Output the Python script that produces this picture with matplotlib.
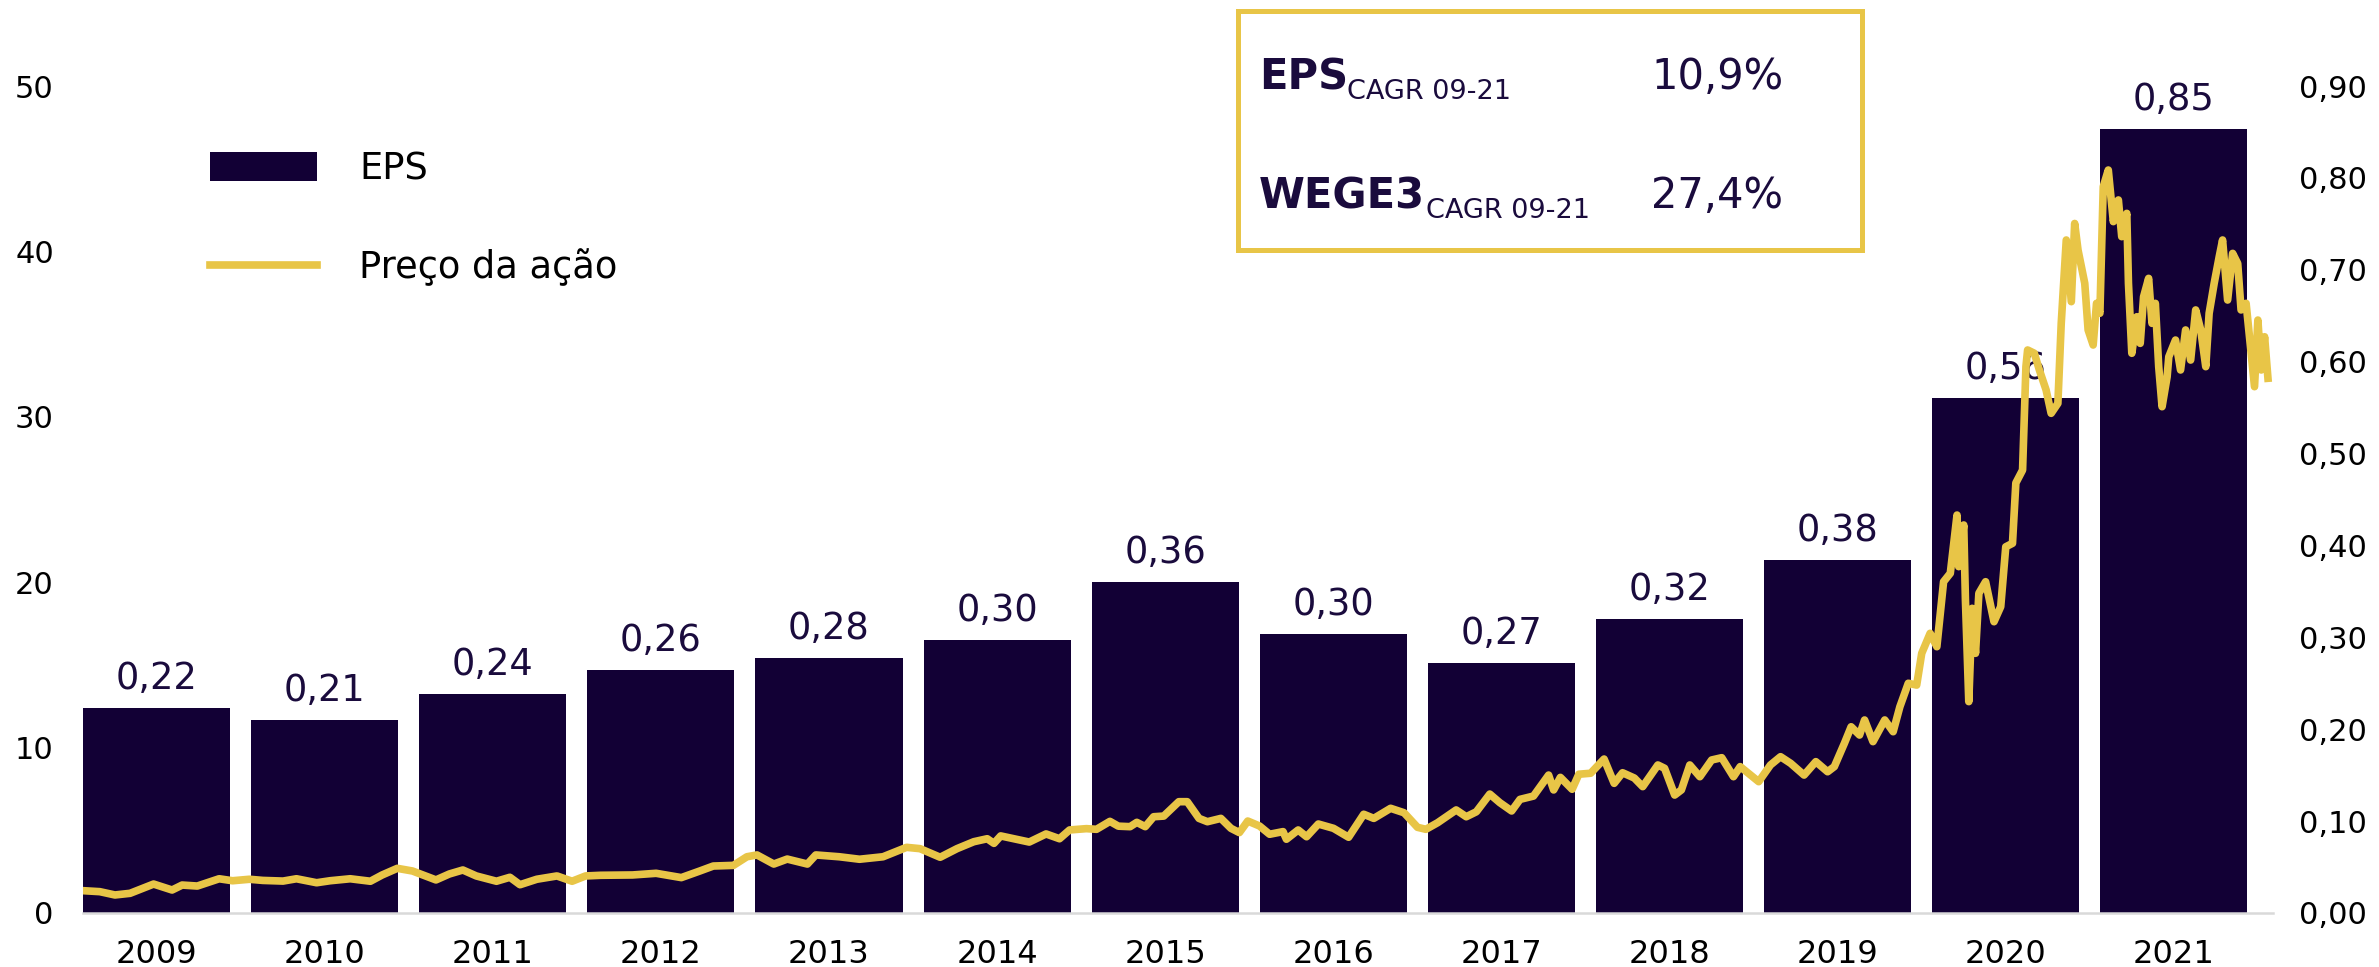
import matplotlib
matplotlib.use("Agg")
import matplotlib.pyplot as plt
from matplotlib.patches import Rectangle

NAVY = "#120035"; GOLD = "#E8C547"; INK = "#1A0B3D"; AXIS = "#D9D9D9"

# EPS anual (eixo direito)
anos_eps = ["2009", "2010", "2011", "2012", "2013", "2014", "2015",
            "2016", "2017", "2018", "2019", "2020", "2021"]
eps = [0.223, 0.210, 0.238, 0.264, 0.278, 0.297, 0.360,
       0.304, 0.272, 0.320, 0.384, 0.560, 0.853]

# preço da ação WEGE3 (eixo esquerdo), tempo em anos decimais
anos_preco = [
    2009.00, 2009.10, 2009.19, 2009.28, 2009.34, 2009.42, 2009.53, 2009.59, 2009.68, 2009.81,
    2009.89, 2009.99, 2010.07, 2010.19, 2010.27, 2010.39, 2010.47, 2010.59, 2010.71, 2010.78,
    2010.87, 2010.96, 2011.10, 2011.18, 2011.26, 2011.34, 2011.46, 2011.54, 2011.60, 2011.70,
    2011.82, 2011.91, 2011.99, 2012.08, 2012.27, 2012.41, 2012.56, 2012.67, 2012.75, 2012.87,
    2012.95, 2013.01, 2013.11, 2013.19, 2013.31, 2013.36, 2013.50, 2013.62, 2013.76, 2013.90,
    2013.98, 2014.10, 2014.20, 2014.30, 2014.38, 2014.42, 2014.46, 2014.53, 2014.63, 2014.73,
    2014.81, 2014.87, 2014.97, 2015.03, 2015.11, 2015.16, 2015.23, 2015.27, 2015.32, 2015.37,
    2015.43, 2015.52, 2015.57, 2015.64, 2015.69, 2015.77, 2015.83, 2015.88, 2015.93, 2016.00,
    2016.06, 2016.14, 2016.16, 2016.23, 2016.28, 2016.35, 2016.44, 2016.53, 2016.62, 2016.68,
    2016.78, 2016.86, 2016.94, 2016.99, 2017.06, 2017.17, 2017.23, 2017.29, 2017.37, 2017.43,
    2017.50, 2017.55, 2017.63, 2017.72, 2017.75, 2017.79, 2017.86, 2017.90, 2017.97, 2018.05,
    2018.11, 2018.16, 2018.23, 2018.28, 2018.37, 2018.41, 2018.47, 2018.51, 2018.56, 2018.62,
    2018.69, 2018.75, 2018.82, 2018.86, 2018.97, 2019.04, 2019.10, 2019.16, 2019.24, 2019.31,
    2019.38, 2019.42, 2019.48, 2019.52, 2019.57, 2019.60, 2019.65, 2019.72, 2019.77, 2019.81,
    2019.86, 2019.91, 2019.94, 2019.99, 2020.03, 2020.07, 2020.11, 2020.15, 2020.16, 2020.19,
    2020.20, 2020.22, 2020.24, 2020.26, 2020.28, 2020.32, 2020.37, 2020.41, 2020.44, 2020.48,
    2020.50, 2020.54, 2020.56, 2020.57, 2020.61, 2020.64, 2020.68, 2020.71, 2020.75, 2020.77,
    2020.80, 2020.83, 2020.85, 2020.87, 2020.91, 2020.93, 2020.96, 2020.98, 2021.00, 2021.02,
    2021.05, 2021.08, 2021.11, 2021.13, 2021.16, 2021.17, 2021.19, 2021.22, 2021.24, 2021.26,
    2021.29, 2021.31, 2021.33, 2021.35, 2021.37, 2021.40, 2021.41, 2021.45, 2021.48, 2021.51,
    2021.54, 2021.57, 2021.60, 2021.63, 2021.65, 2021.68, 2021.71, 2021.73, 2021.76, 2021.79,
    2021.82, 2021.84, 2021.87, 2021.89, 2021.92, 2021.94, 2021.96, 2021.98, 2022.00]
preco = [
    1.35, 1.29, 1.09, 1.19, 1.43, 1.75, 1.39, 1.69, 1.63, 2.07,
    1.95, 2.04, 1.97, 1.93, 2.07, 1.83, 1.95, 2.07, 1.92, 2.30,
    2.70, 2.54, 2.00, 2.36, 2.60, 2.24, 1.92, 2.16, 1.71, 2.04,
    2.24, 1.92, 2.24, 2.28, 2.30, 2.40, 2.14, 2.54, 2.84, 2.88,
    3.40, 3.51, 2.96, 3.26, 2.96, 3.51, 3.40, 3.25, 3.40, 3.97,
    3.89, 3.37, 3.89, 4.31, 4.49, 4.21, 4.66, 4.51, 4.29, 4.78,
    4.49, 5.02, 5.10, 5.06, 5.54, 5.25, 5.22, 5.48, 5.22, 5.82,
    5.86, 6.73, 6.73, 5.72, 5.52, 5.72, 5.12, 4.86, 5.56, 5.26,
    4.76, 4.92, 4.46, 5.02, 4.61, 5.38, 5.12, 4.58, 5.97, 5.72,
    6.33, 6.06, 5.18, 5.06, 5.46, 6.23, 5.82, 6.12, 7.19, 6.67,
    6.17, 6.87, 7.07, 8.34, 7.44, 8.20, 7.48, 8.39, 8.45, 9.31,
    7.84, 8.48, 8.16, 7.64, 8.95, 8.75, 7.13, 7.44, 8.95, 8.24,
    9.25, 9.39, 8.24, 8.85, 7.94, 8.95, 9.45, 9.05, 8.34, 9.15,
    8.54, 8.85, 10.26, 11.26, 10.76, 11.67, 10.36, 11.67, 10.96, 12.47,
    13.89, 13.78, 15.70, 16.91, 16.10, 20.03, 20.54, 24.06, 20.94, 23.46,
    18.92, 12.78, 18.42, 15.70, 19.33, 20.03, 17.61, 18.52, 22.14, 22.35,
    26.00, 26.78, 33.03, 34.04, 33.84, 32.83, 31.62, 30.21, 30.81, 35.65,
    40.69, 36.96, 41.69, 40.08, 38.07, 35.25, 34.34, 36.86, 36.26, 43.91,
    44.92, 41.80, 43.11, 40.89, 42.30, 38.07, 33.84, 36.05, 34.44, 37.26,
    38.37, 35.65, 36.86, 33.03, 30.61, 32.42, 33.63, 34.64, 32.83, 35.25,
    33.43, 36.46, 35.25, 33.03, 36.26, 38.07, 39.68, 40.69, 37.06, 39.88,
    39.27, 36.46, 36.86, 34.84, 31.82, 35.85, 32.83, 34.84, 32.33]

eps_ticks = [0.0, 0.1, 0.2, 0.3, 0.4, 0.5, 0.6, 0.7, 0.8, 0.9]
preco_ticks = [0, 10, 20, 30, 40, 50]

def br(v): return f"{v:.2f}".replace(".", ",")

plt.rcParams.update({"font.family": "DejaVu Sans"})
W, H = 2379, 967
fig = plt.figure(figsize=(W / 100, H / 100), dpi=100)
rect = [83 / W, 54 / H, (2273 - 83) / W, 827 / H]

# ---- barras EPS ----
ax = fig.add_axes(rect)
xs = list(range(len(anos_eps)))
bars = ax.bar(xs, eps, width=0.875, color=NAVY, zorder=2, label="EPS")
ax.set_xlim(-0.4375, 12.59); ax.set_ylim(0, 0.9)
ax.set_xticks(xs); ax.set_xticklabels(anos_eps)
ax.yaxis.tick_right()
ax.set_yticks(eps_ticks); ax.set_yticklabels([br(v) for v in eps_ticks])
ax.tick_params(axis="y", length=0, pad=18.5, labelsize=22, colors="black")
ax.tick_params(axis="x", length=0, pad=18.5, labelsize=23, colors="black")
for s in ["top", "left", "right"]:
    ax.spines[s].set_visible(False)
ax.spines["bottom"].set_color(AXIS); ax.spines["bottom"].set_linewidth(1.8)
for xi, v in zip(xs, eps):
    ax.annotate(br(v), (xi, v), xytext=(0, 13.7), textcoords="offset points",
                ha="center", va="baseline", fontsize=26.5, color=INK)

# ---- preço da ação ----
axp = fig.add_axes(rect, facecolor="none")
line, = axp.plot(anos_preco, preco, color=GOLD, lw=5.5, label="Preço da ação",
                 solid_joinstyle="round")
axp.set_xlim(2009.0, 2022.03); axp.set_ylim(0, 50)
axp.set_xticks([]); axp.set_yticks(preco_ticks)
axp.tick_params(axis="y", length=0, pad=21, labelsize=22, colors="black")
for s in axp.spines.values():
    s.set_visible(False)

# ---- legenda ----
fig.legend(handles=[bars, line], loc="upper left",
           bbox_to_anchor=(210 / W, 1 - 150 / H), frameon=False, fontsize=26.5,
           handlelength=2.9, handleheight=0.85, handletextpad=1.15,
           labelspacing=1.68, borderpad=0, borderaxespad=0)

# ---- quadro CAGR ----
fig.patches.append(Rectangle((1238 / W, 1 - 250 / H), (1862 - 1238) / W, 239 / H,
                             transform=fig.transFigure, fill=False, ec=GOLD, lw=3.6))
for nome, x_sub, y_base, pct in [("EPS", 1347, 89, "10,9%"), ("WEGE3", 1426, 208, "27,4%")]:
    fig.text(1259 / W, 1 - y_base / H, nome, fontsize=30, fontweight="bold",
             color=INK, va="baseline")
    fig.text(x_sub / W, 1 - (y_base + 10) / H, "CAGR 09-21", fontsize=19.5,
             color=INK, va="baseline")
    fig.text(1651 / W, 1 - y_base / H, pct, fontsize=30, color=INK, va="baseline")

fig.savefig("out.png", facecolor="white")
